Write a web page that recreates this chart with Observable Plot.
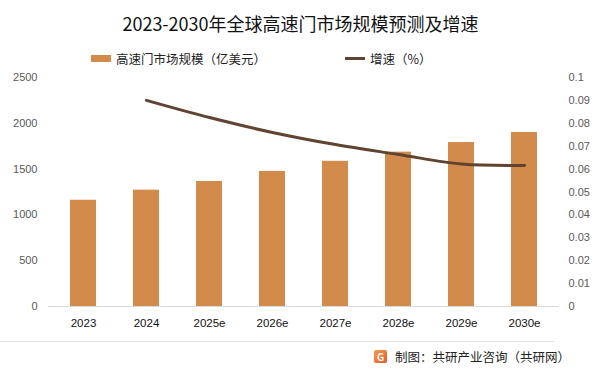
<!DOCTYPE html>
<html><head><meta charset="utf-8">
<script src="https://cdn.jsdelivr.net/npm/d3@7"></script>
<script src="https://cdn.jsdelivr.net/npm/@observablehq/plot@0.6"></script>
<style>
body{margin:0;background:#fff;font-family:"Noto Sans CJK SC","Noto Sans",sans-serif;}
#wrap{position:relative;width:601px;height:374px;overflow:hidden;}
#title{position:absolute;top:10px;left:0;width:601px;text-align:center;font-size:18px;color:#111;}
.leg{position:absolute;top:49px;font-size:12.5px;color:#222;display:flex;align-items:center;}
.sw{display:inline-block;width:20px;height:7px;background:#d38b4c;margin-right:5px;}
.ln{display:inline-block;width:20px;height:3px;background:#614331;margin-right:5px;}
#sep{position:absolute;top:341px;left:0;width:555px;height:1px;background:#e3e3e3;}
#foot{position:absolute;top:347px;left:374px;font-size:12.5px;color:#222;display:flex;align-items:center;}
.logo{width:13px;height:13px;border-radius:2px;background:linear-gradient(135deg,#f6a04a,#e8542e);color:#fff;font-size:10px;font-weight:bold;display:inline-flex;align-items:center;justify-content:center;margin-right:8px;}
</style></head><body>
<div id="wrap">
<div id="title">2023-2030年全球高速门市场规模预测及增速</div>
<div class="leg" style="left:91px"><span class="sw"></span>高速门市场规模（亿美元）</div>
<div class="leg" style="left:345px"><span class="ln"></span>增速（%）</div>
<div id="chart" style="position:absolute;top:0;left:0"></div>
<div id="sep"></div>
<div id="foot"><span class="logo">G</span>制图：共研产业咨询（共研网）</div>
</div>
<script>
const years = ["2023","2024","2025e","2026e","2027e","2028e","2029e","2030e"];
const market = [1160,1270,1365,1475,1585,1685,1790,1900];
const growthYears = ["2024","2025e","2026e","2027e","2028e","2029e","2030e"];
const growth = [0.090,0.0825,0.076,0.0707,0.0664,0.0622,0.0616];
const leftTicks = [0,500,1000,1500,2000,2500];
const rightTicks = [0,0.01,0.02,0.03,0.04,0.05,0.06,0.07,0.08,0.09,0.1];

const K = 25000;
const bars = years.map((y,i)=>({year:y,value:market[i]}));
const line = growthYears.map((y,i)=>({year:y,rate:growth[i]*K}));

const plot = Plot.plot({
  width:601, height:374,
  marginTop:77, marginBottom:68, marginLeft:48, marginRight:42,
  style:{fontFamily:"'Liberation Sans','Noto Sans CJK SC',sans-serif",fontSize:"11px",background:"transparent"},
  x:{domain:years, paddingInner:0.59, paddingOuter:0.295, label:null},
  y:{domain:[0,2500], label:null},
  marks:[
    Plot.gridY(leftTicks,{stroke:"#d9d9d9",strokeOpacity:1,x1:48,x2:555}),
    Plot.barY(bars,{x:"year",y:"value",fill:"#d38b4c"}),
    Plot.ruleY([0],{stroke:"#d9d9d9"}),
    Plot.axisY({anchor:"left",ticks:leftTicks,tickSize:0,tickPadding:11,fill:"#595959",label:null,tickFormat:d=>String(d)}),
    Plot.axisY({anchor:"right",ticks:rightTicks.map(d=>d*K),tickSize:0,tickPadding:9,fill:"#595959",label:null,
      tickFormat:d=>String(+(d/K).toFixed(2))}),
    Plot.axisX({tickSize:0,tickPadding:12,fill:"#111",label:null,fontSize:"11.5px"}),
    Plot.lineY(line,{x:"year",y:"rate",stroke:"#614331",strokeWidth:3,curve:"catmull-rom"})
  ]
});
document.getElementById("chart").appendChild(plot);
</script>
</body></html>
